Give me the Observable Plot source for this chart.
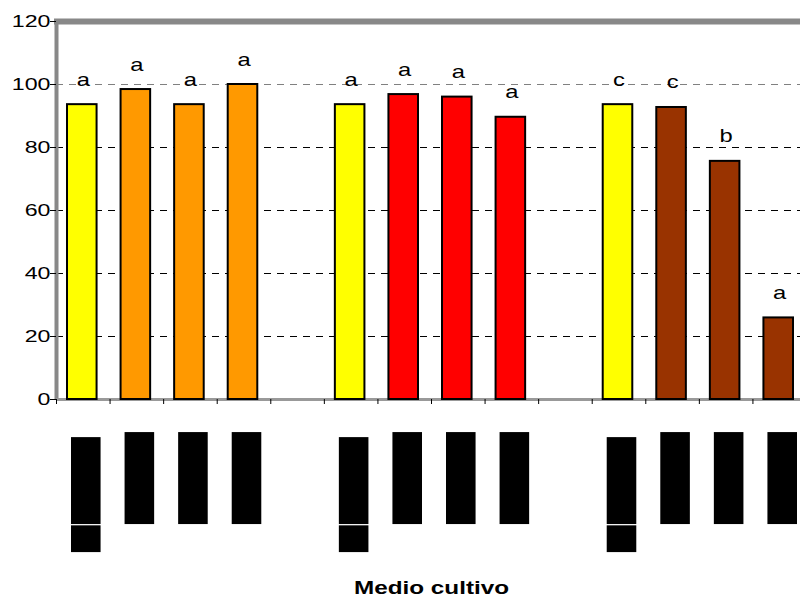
<!DOCTYPE html>
<html><head><meta charset="utf-8">
<script src="https://cdn.jsdelivr.net/npm/d3@7"></script>
<script src="https://cdn.jsdelivr.net/npm/@observablehq/plot@0.6"></script>
<style>body{margin:0;background:#fff;} svg{display:block;}</style>
</head><body><div id="chart"></div>
<script>
// ---- data ----
const groups = ["G1", "G2", "G3"];
const treatments = ["control", "t1", "t2", "t3"];
const groupColors = ["#FF9900", "#FF0000", "#993300"];
const controlColor = "#FFFF00";
const values = [
  [93.6, 98.4, 93.6, 100.0],
  [93.6, 96.8, 96.0, 89.6],
  [93.6, 92.7, 75.6, 25.9]
];
const letters = [
  ["a", "a", "a", "a"],
  ["a", "a", "a", "a"],
  ["c", "c", "b", "a"]
];
const yTicks = [0, 20, 40, 60, 80, 100, 120];
const xTitle = "Medio cultivo";

// ---- table ----
const rows = [];
groups.forEach((g, gi) => treatments.forEach((t, ti) => rows.push({
  group: g, treatment: t, slot: gi * (treatments.length + 1) + ti,
  value: values[gi][ti], letter: letters[gi][ti],
  kind: ti === 0 ? "control" : g
})));
const nSlots = groups.length * (treatments.length + 1) - 1;
const boundaries = d3.range(0, nSlots + 1);
const controls = rows.filter(d => d.treatment === "control");

const plot = Plot.plot({
  width: 800, height: 599,
  marginLeft: 56, marginRight: -6, marginTop: 21, marginBottom: 200,
  style: {fontFamily: "'Liberation Sans', Arial, sans-serif", background: "white", overflow: "hidden", color: "black"},
  x: {domain: [0, nSlots], axis: null},
  y: {domain: [0, 120], axis: null},
  color: {domain: ["control", ...groups], range: [controlColor, ...groupColors]},
  marks: [
    Plot.ruleY([20, 40, 60, 80], {stroke: "#000", strokeDasharray: "7,6"}),
    Plot.ruleY([100], {stroke: "#808080", strokeDasharray: "7,6"}),
    Plot.ruleY([120], {stroke: "#888", strokeWidth: 6, insetLeft: -2}),
    Plot.ruleX([0], {y1: 0, y2: 120, stroke: "#888", strokeWidth: 4}),
    Plot.ruleY([0], {stroke: "#999", strokeWidth: 3}),
    Plot.axisX({ticks: boundaries, tickSize: 5, tickFormat: () => "", label: null, stroke: "#000"}),
    Plot.axisY({ticks: yTicks, tickSize: 6, tickPadding: 0, label: null, fontSize: 16, stroke: "#000"}),
    Plot.rect(rows, {x1: "slot", x2: d => d.slot + 1, y1: 0, y2: "value", fill: "kind", stroke: "#000", strokeWidth: 2, insetLeft: 11, insetRight: 13}),
    Plot.text(rows, {x: d => d.slot + 0.5, y: "value", text: "letter", lineAnchor: "bottom", dy: -19, fontSize: 19}),
    // redacted category labels (black boxes)
    Plot.rect(rows, {x1: "slot", x2: d => d.slot + 1, y1: d => d.treatment === "control" ? -12.1 : -10.5, y2: -39.7, fill: "#000", insetLeft: 15, insetRight: 9}),
    Plot.rect(controls, {x1: "slot", x2: d => d.slot + 1, y1: -40.1, y2: -48.6, fill: "#000", insetLeft: 15, insetRight: 9}),
    Plot.text([xTitle], {frameAnchor: "bottom", text: d => d, dy: 194, lineAnchor: "bottom", fontSize: 18, fontWeight: "bold"})
  ]
});

// horizontal stretch of texts as in the original chart
const stretch = {"16": 1.45, "19": 1.25, "18": 1.35};
d3.select(plot).selectAll("text").each(function() {
  const g = this.closest("g[font-size]");
  const fs = g ? g.getAttribute("font-size") : null;
  const s = stretch[fs];
  if (!s) return;
  let tr = this.getAttribute("transform");
  if (!tr) {
    const x = this.getAttribute("x") || 0, y = this.getAttribute("y") || 0;
    this.removeAttribute("x"); this.removeAttribute("y");
    tr = `translate(${x},${y})`;
  }
  this.setAttribute("transform", tr + ` scale(${s},1)`);
});

document.getElementById("chart").append(plot);
</script>
</body></html>
